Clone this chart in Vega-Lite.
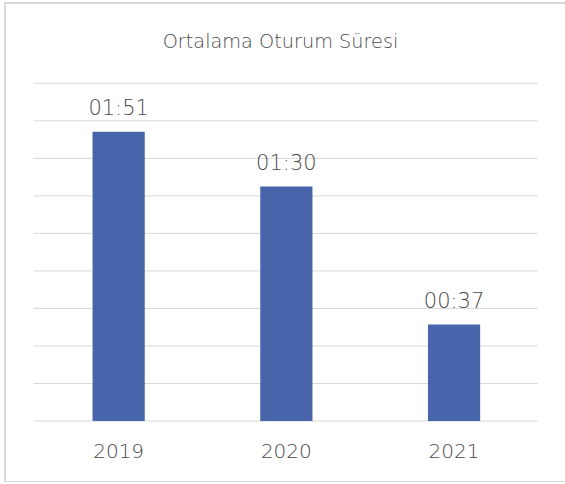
{
  "$schema": "https://vega.github.io/schema/vega-lite/v6.json",
  "width": 570,
  "height": 479,
  "autosize": {"type": "none"},
  "padding": {"left": 5, "top": 3, "right": 0, "bottom": 0},
  "background": "white",
  "title": {
    "text": "Ortalama Oturum Süresi",
    "anchor": "middle",
    "frame": "group",
    "offset": -49,
    "dx": -9.5,
    "font": "DejaVu Sans",
    "fontSize": 19.3,
    "fontWeight": 300,
    "color": "#4a4a4a"
  },
  "config": {"view": {"stroke": "#D9D9D9", "strokeWidth": 2}},
  "datasets": {
    "bars": [
      {"year": "2019", "seconds": 111, "label": "01:51"},
      {"year": "2020", "seconds": 90, "label": "01:30"},
      {"year": "2021", "seconds": 37, "label": "00:37"}
    ],
    "grid": [
      {"v": 0}, {"v": 14.4}, {"v": 28.8}, {"v": 43.2}, {"v": 57.6},
      {"v": 72}, {"v": 86.4}, {"v": 100.8}, {"v": 115.2}, {"v": 129.6}
    ]
  },
  "layer": [
    {
      "data": {"name": "grid"},
      "mark": {"type": "rule", "color": "#D9D9D9", "strokeWidth": 1},
      "encoding": {
        "y": {"field": "v", "type": "quantitative", "scale": {"domain": [-23.41, 160.42], "nice": false, "zero": false}, "axis": null},
        "x": {"datum": 0, "type": "quantitative", "scale": {"domain": [-0.05652, 1.07398], "nice": false, "zero": false}, "axis": null},
        "x2": {"datum": 1}
      }
    },
    {
      "data": {"name": "bars"},
      "encoding": {
        "x": {
          "field": "year", "type": "nominal", "sort": null,
          "scale": {"paddingInner": 0.6887, "paddingOuter": 0.5438, "align": 0.48},
          "axis": {
            "orient": "bottom", "offset": -61, "domain": false, "ticks": false, "grid": false,
            "labelPadding": 20.5, "labelFont": "DejaVu Sans", "labelFontSize": 20, "labelFontWeight": 300,
            "labelColor": "#4a4a4a", "title": null, "labelAngle": 0
          }
        },
        "y": {"field": "seconds", "type": "quantitative", "scale": {"domain": [-23.41, 160.42], "nice": false, "zero": false}, "axis": null}
      },
      "layer": [
        {"mark": {"type": "bar", "color": "#4865AB"}},
        {
          "mark": {"type": "text", "baseline": "alphabetic", "dy": -16.5, "font": "DejaVu Sans", "fontSize": 21, "fontWeight": 300, "color": "#4a4a4a"},
          "encoding": {"text": {"field": "label"}}
        }
      ]
    }
  ],
  "resolve": {"scale": {"x": "independent"}}
}
